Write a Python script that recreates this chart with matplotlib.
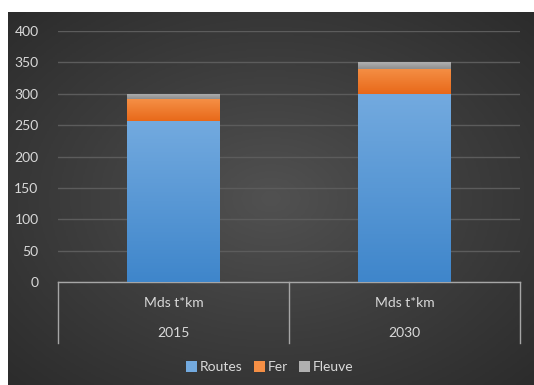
import numpy as np
import matplotlib.pyplot as plt
from matplotlib.patches import Patch
import matplotlib.transforms as mtransforms

# Données (Mds t*km)
annees = ['2015', '2030']
unite = 'Mds t*km'
routes = [257, 300]
fer = [35, 40]
fleuve = [8, 10]
series = ['Routes', 'Fer', 'Fleuve']

plt.rcParams['font.family'] = ['Lato', 'DejaVu Sans']
txt = '#d9d9d9'

fig = plt.figure(figsize=(5.34, 3.85), dpi=100, facecolor='white')

# Fond sombre avec dégradé radial
bg = fig.add_axes([8 / 534, 0, 526 / 534, 373 / 385])
yy, xx = np.mgrid[-1:1:200j, -1:1:280j]
r = np.sqrt(xx ** 2 + yy ** 2)
bg.imshow(r, cmap=plt.matplotlib.colors.LinearSegmentedColormap.from_list(
    'fond', ['#515151', '#3d3d3d', '#2b2b2b']), vmin=0, vmax=1.45,
    aspect='auto', extent=[0, 1, 0, 1])
bg.axis('off')

ax = fig.add_axes([58 / 534, 103 / 385, 462 / 534, 251 / 385])
ax.set_facecolor('none')

x = np.arange(len(annees))
largeur = 0.4
couleurs = [('#3f86cb', '#73aadf'), ('#e8691a', '#f58f45'), ('#8f8f8f', '#b0b0b0')]
bas = np.zeros(len(annees))
for nom, vals, (c0, c1) in zip(series, [routes, fer, fleuve], couleurs):
    barres = ax.bar(x, vals, largeur, bottom=bas, color=c1, zorder=3, linewidth=0)
    for b in barres:
        x0, y0 = b.get_x(), b.get_y()
        grad = np.linspace(0, 1, 100).reshape(-1, 1)
        cmap = plt.matplotlib.colors.LinearSegmentedColormap.from_list('g', [c0, c1])
        im = ax.imshow(grad, cmap=cmap, aspect='auto', origin='lower',
                       extent=[x0, x0 + b.get_width(), y0, y0 + b.get_height()], zorder=3)
        im.set_clip_path(b)
    bas += np.array(vals)

ax.set_xlim(-0.5, len(annees) - 0.5)
ax.set_ylim(0, 400)
ax.set_yticks(range(0, 401, 50))
ax.yaxis.grid(True, color='#5c5c5c', linewidth=1, zorder=0)
ax.tick_params(axis='y', length=0, pad=14, labelcolor=txt, labelsize=10)
ax.set_xticks([])
for s in ax.spines.values():
    s.set_visible(False)

# Axe des catégories à deux niveaux
ligne = dict(color='#a6a6a6', linewidth=1, clip_on=False, transform=ax.transAxes)
bas_px = 61 / 251
ax.plot([0, 1], [0, 0], **ligne)
for xv in [0, 0.5, 1]:
    ax.plot([xv, xv], [0, -bas_px], **ligne)
trans = mtransforms.blended_transform_factory(ax.transData, ax.transAxes)
for i, a in enumerate(annees):
    ax.text(i, -21 / 251, unite, transform=trans, ha='center', va='center', color=txt, fontsize=10)
    ax.text(i, -51 / 251, a, transform=trans, ha='center', va='center', color=txt, fontsize=10)

poignees = [Patch(facecolor=c[1], edgecolor='none') for c in couleurs]
fig.legend(poignees, series, loc='center', bbox_to_anchor=(270 / 534, 1 - 367 / 385),
           ncol=3, frameon=False, labelcolor=txt, fontsize=10,
           handlelength=0.8, handleheight=0.8, handletextpad=0.2, columnspacing=0.8)

fig.savefig('out.png', dpi=100, facecolor='white')
